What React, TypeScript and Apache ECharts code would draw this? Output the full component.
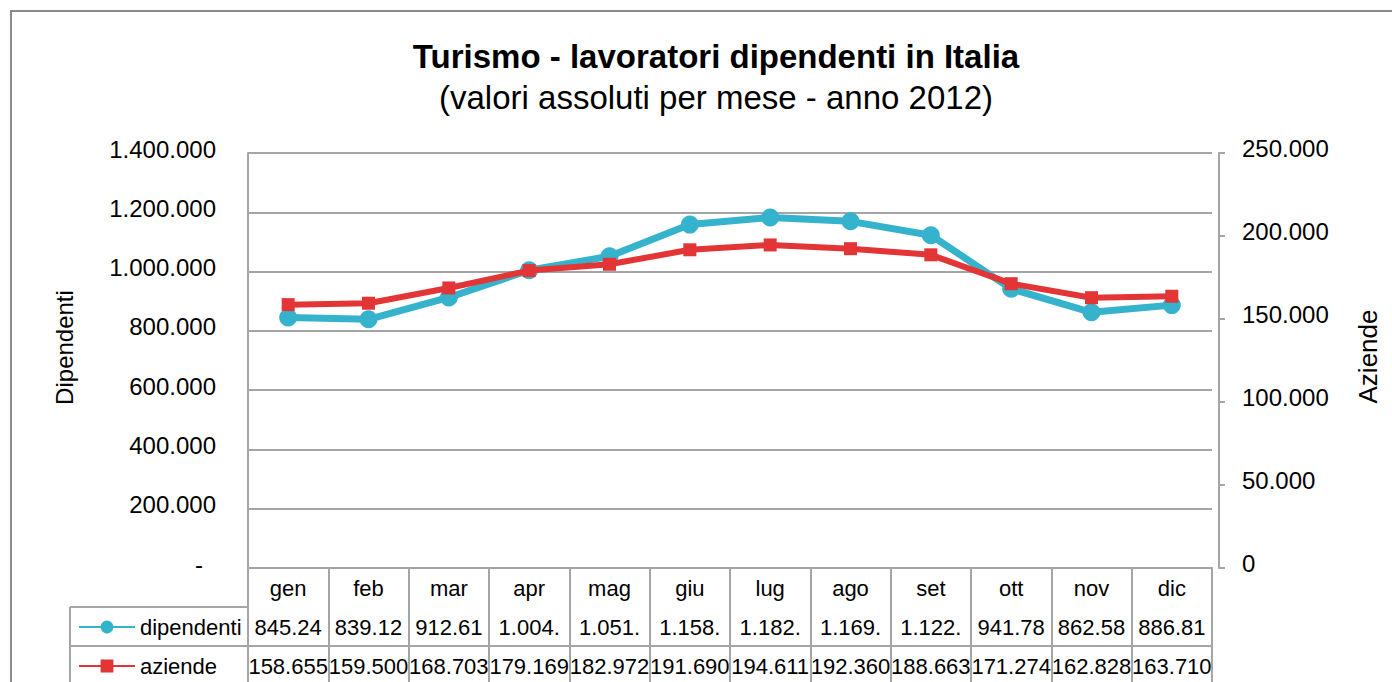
import React, { useEffect, useRef } from "react";
import * as echarts from "echarts";

const months = ["gen", "feb", "mar", "apr", "mag", "giu", "lug", "ago", "set", "ott", "nov", "dic"];
const dipendenti = [845245, 839125, 912615, 1004500, 1051500, 1158500, 1182500, 1169500, 1122500, 941785, 862585, 886815];
const aziende = [158655, 159500, 168703, 179169, 182972, 191690, 194611, 192360, 188663, 171274, 162828, 163710];
const seriesNames = ["dipendenti", "aziende"];

const FONT = "Liberation Sans, Arial, sans-serif";
const GRAY = "#A5A5A5";
const BLUE = "#35B3CD";
const RED = "#E43536";

const fmt = (n: number) => String(Math.round(n)).replace(/\B(?=(\d{3})+(?!\d))/g, ".");

export default function App() {
  const ref = useRef<HTMLDivElement>(null);
  useEffect(() => {
    if (!ref.current) return;
    const chart = echarts.init(ref.current, null, { renderer: "svg" });
    const tableLabel = {
      interval: 0,
      fontSize: 22,
      color: "#000",
      fontFamily: FONT,
      margin: 20,
      verticalAlign: "middle" as const,
    };
    const tickText = { fontSize: 24, color: "#000", fontFamily: FONT };
    chart.setOption({
      animation: false,
      backgroundColor: "#fff",
      textStyle: { fontFamily: FONT },
      title: [
        {
          text: "Turismo - lavoratori dipendenti in Italia",
          left: 716,
          top: 56,
          textAlign: "center",
          textVerticalAlign: "middle",
          padding: 0,
          textStyle: { fontSize: 33, fontWeight: "bold", color: "#000", fontFamily: FONT },
        },
        {
          text: "(valori assoluti per mese - anno 2012)",
          left: 716,
          top: 97,
          textAlign: "center",
          textVerticalAlign: "middle",
          padding: 0,
          textStyle: { fontSize: 33, fontWeight: "normal", color: "#000", fontFamily: FONT },
        },
      ],
      legend: [
        {
          data: [seriesNames[0]],
          orient: "vertical",
          left: 78,
          top: 616,
          padding: 0,
          itemWidth: 56,
          itemHeight: 16,
          itemGap: 0,
          textStyle: { fontSize: 22, color: "#000", fontFamily: FONT },
        },
        {
          data: [seriesNames[1]],
          orient: "vertical",
          left: 78,
          top: 655,
          padding: 0,
          itemWidth: 56,
          itemHeight: 16,
          itemGap: 0,
          textStyle: { fontSize: 22, color: "#000", fontFamily: FONT },
        },
      ],
      grid: { left: 248, right: 180, top: 153, bottom: 114, containLabel: false },
      xAxis: [
        {
          type: "category",
          data: months,
          position: "bottom",
          boundaryGap: true,
          axisLine: { show: true, lineStyle: { color: GRAY, width: 2 } },
          axisTick: { show: true, interval: 0, length: 120, lineStyle: { color: GRAY, width: 2 } },
          axisLabel: tableLabel,
        },
        {
          type: "category",
          data: dipendenti.map((v) => fmt(v).slice(0, 6)),
          position: "bottom",
          offset: 39,
          boundaryGap: true,
          axisLine: { show: true, lineStyle: { color: GRAY, width: 2 } },
          axisTick: { show: false },
          axisLabel: tableLabel,
        },
        {
          type: "category",
          data: aziende.map(fmt),
          position: "bottom",
          offset: 78,
          boundaryGap: true,
          axisLine: { show: true, lineStyle: { color: GRAY, width: 2 } },
          axisTick: { show: false },
          axisLabel: tableLabel,
        },
      ],
      yAxis: [
        {
          type: "value",
          min: 0,
          max: 1400000,
          interval: 200000,
          position: "left",
          name: "Dipendenti",
          nameLocation: "middle",
          nameRotate: 90,
          nameGap: 172,
          nameTextStyle: { fontSize: 24, color: "#000", fontFamily: FONT, padding: [0, 0, 0, 26] },
          axisLine: { show: true, lineStyle: { color: GRAY, width: 2 } },
          axisTick: { show: false },
          splitLine: { show: true, lineStyle: { color: GRAY, width: 2 } },
          axisLabel: {
            ...tickText,
            margin: 32,
            formatter: (v: number) => (v === 0 ? "{d|-}" : `{v|${fmt(v)}}`),
            rich: {
              d: { ...tickText, padding: [0, 13, 8, 0] },
              v: { ...tickText, padding: [0, 0, 8, 0] },
            },
          },
        },
        {
          type: "value",
          min: 0,
          max: 250000,
          interval: 50000,
          position: "right",
          offset: 7,
          name: "Aziende",
          nameLocation: "middle",
          nameRotate: 90,
          nameGap: 136,
          nameTextStyle: { fontSize: 26, color: "#000", fontFamily: FONT, padding: [0, 0, 0, 8] },
          axisLine: { show: true, lineStyle: { color: GRAY, width: 2 } },
          axisTick: { show: true, length: 6, lineStyle: { color: GRAY, width: 2 } },
          splitLine: { show: false },
          axisLabel: {
            ...tickText,
            margin: 23,
            formatter: (v: number) => `{v|${fmt(v)}}`,
            rich: { v: { ...tickText, padding: [0, 0, 9, 0] } },
          },
        },
      ],
      graphic: [
        {
          type: "rect",
          shape: { x: 11, y: 11, width: 1420, height: 720 },
          style: { fill: "none", stroke: "#8A8A8A", lineWidth: 2 },
          silent: true,
        },
        {
          type: "line",
          shape: { x1: 70, y1: 607, x2: 248, y2: 607 },
          style: { stroke: GRAY, lineWidth: 2 },
          silent: true,
        },
        {
          type: "line",
          shape: { x1: 70, y1: 646, x2: 248, y2: 646 },
          style: { stroke: GRAY, lineWidth: 2 },
          silent: true,
        },
        {
          type: "line",
          shape: { x1: 70, y1: 607, x2: 70, y2: 700 },
          style: { stroke: GRAY, lineWidth: 2 },
          silent: true,
        },
      ],
      series: [
        {
          name: seriesNames[0],
          type: "line",
          xAxisIndex: 0,
          yAxisIndex: 0,
          data: dipendenti,
          symbol: "circle",
          symbolSize: 18,
          color: BLUE,
          lineStyle: { width: 7, color: BLUE },
          itemStyle: { color: BLUE },
          z: 2,
        },
        {
          name: seriesNames[1],
          type: "line",
          xAxisIndex: 0,
          yAxisIndex: 1,
          data: aziende,
          symbol: "rect",
          symbolSize: 13,
          color: RED,
          lineStyle: { width: 6, color: RED },
          itemStyle: { color: RED },
          z: 3,
        },
      ],
    });
    return () => chart.dispose();
  }, []);
  return (
    <div
      ref={ref}
      style={{ position: "fixed", left: 0, top: 0, width: 1392, height: 682 }}
    />
  );
}
